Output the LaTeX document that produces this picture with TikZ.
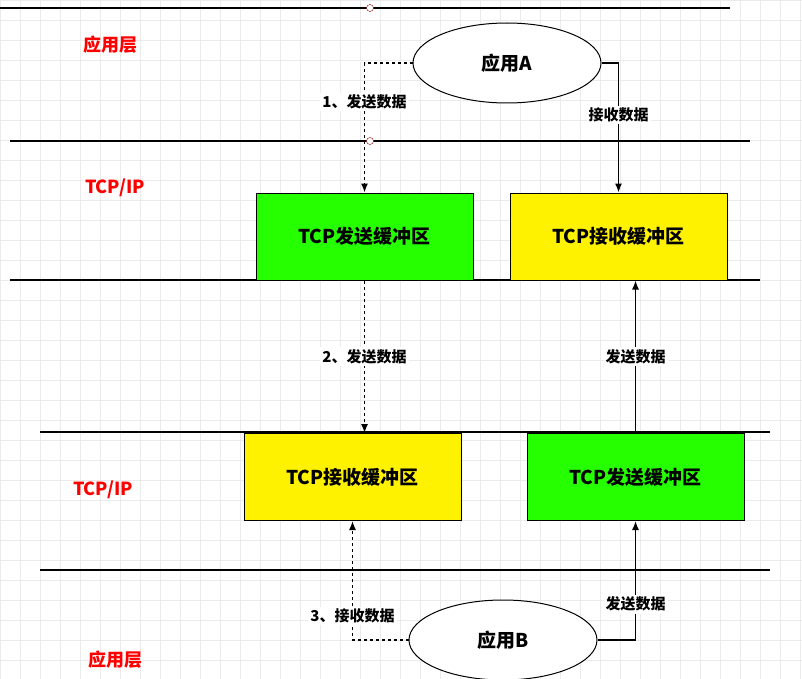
\documentclass[tikz,border=0pt]{standalone}
\usepackage{fontspec}
\setmainfont{Noto Sans CJK SC}
\usetikzlibrary{shapes}
\usetikzlibrary{positioning}
\usetikzlibrary{arrows.meta}
\begin{document}
\begin{tikzpicture}[x=1pt,y=-1pt,>={Latex[length=9pt,width=7pt]},
            buf/.style = {draw,line width=1pt,minimum width=217pt,minimum height=87pt,
                font=\bfseries\fontsize{19}{19}\selectfont},
            app/.style = {draw,line width=1pt,ellipse,minimum width=188pt,minimum height=80pt,
                font=\bfseries\fontsize{19}{19}\selectfont},
            layer/.style = {text=red,font=\bfseries\fontsize{18}{18}\selectfont},
            lbl/.style = {fill=white,inner sep=2pt,font=\bfseries\fontsize{15}{15}\selectfont},
            line/.style = {line width=1.3pt},
            flow/.style = {->,line width=1.3pt},
            dflow/.style = {->,line width=1.3pt,dashed}]
            \useasboundingbox (0,0) rectangle (802,679);
            \foreach \gx in {0,20,...,800} \draw[black!8] (\gx,0) -- (\gx,679);
            \foreach \gy in {0,20,...,679} \draw[black!8] (0,\gy) -- (802,\gy);
            % layer lines
            \draw[line] (0,8) -- (730,8);
            \draw[line] (10,141) -- (750,141);
            \draw[line] (10,280) -- (760,280);
            \draw[line] (40,432) -- (770,432);
            \draw[line,line width=2.5pt] (40,570) -- (770,570);
            \draw[red!60!black,fill=white] (370,8) circle (3.5);
            \draw[red!60!black,fill=white] (370,141) circle (3.5);
            % layer names
            \node[layer] (l1) at (110,45) {应用层};
            \node[layer] (l2) at (115,188) {TCP/IP};
            \node[layer] (l3) at (103,490) {TCP/IP};
            \node[layer] (l4) at (115,660) {应用层};
            % apps and buffers
            \node[app,fill=white] (appA) at (507,63) {应用A};
            \node[app,fill=white] (appB) at (503,640) {应用B};
            \node[buf,fill=green!85!yellow] (sendA) at (364.5,236.5) {TCP发送缓冲区};
            \node[buf,fill=yellow] (recvA) at (618.5,236.5) {TCP接收缓冲区};
            \node[buf,fill=yellow] (recvB) at (352.5,477) {TCP接收缓冲区};
            \node[buf,fill=green!85!yellow] (sendB) at (635.5,477) {TCP发送缓冲区};
            % flows
            \draw[dflow] (appA.west) -| node[lbl,pos=0.65] {1、发送数据} (sendA.north);
            \draw[flow] (appA.east) -| node[lbl,pos=0.7] {接收数据} (recvA.north);
            \draw[dflow] (sendA.south) -- node[lbl] {2、发送数据} (recvB.north -| sendA.south);
            \draw[flow] (sendB.north) -- node[lbl] {发送数据} (recvA.south -| sendB.north);
            \draw[dflow] (appB.west) -| node[lbl,pos=0.6] {3、接收数据} (recvB.south);
            \draw[flow] (appB.east) -| node[lbl,pos=0.65] {发送数据} (sendB.south);
\end{tikzpicture}
\end{document}
